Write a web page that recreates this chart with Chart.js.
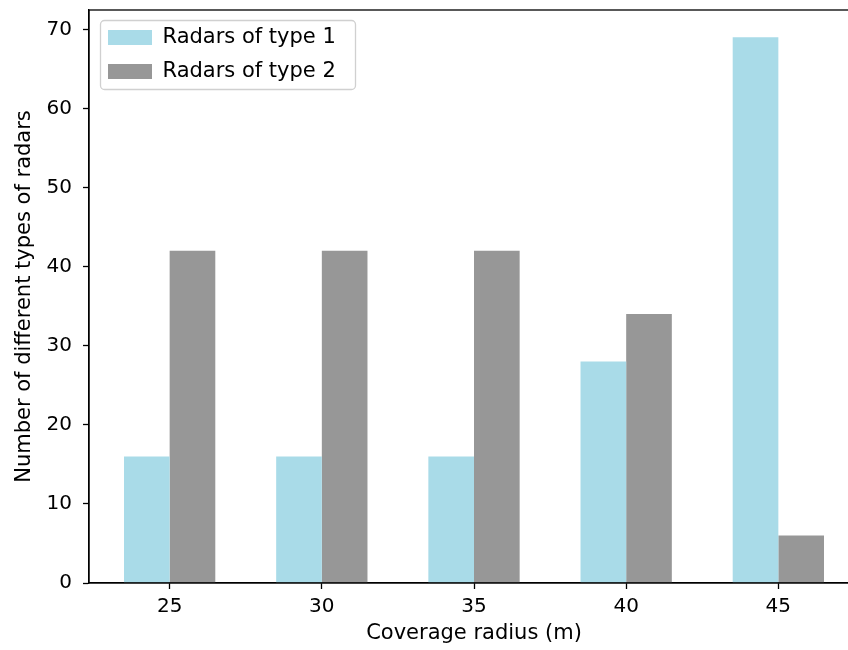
<!DOCTYPE html>
<html>
<head>
<meta charset="utf-8">
<script src="https://cdn.jsdelivr.net/npm/chart.js@4.4.1/dist/chart.umd.min.js"></script>
<style>
  html, body { margin: 0; padding: 0; background: #fff; overflow: hidden; }
</style>
</head>
<body>
<canvas id="chart" width="870" height="650"></canvas>
<script>
// coverage radius (m)
const radii = [25, 30, 35, 40, 45];
const type1Counts = [16, 16, 16, 28, 69];
const type2Counts = [42, 42, 42, 34, 6];
const yTicks = [0, 10, 20, 30, 40, 50, 60, 70];

const FONT = "'DejaVu Sans', sans-serif";

// matplotlib style frame around the axes + legend box
const framePlugin = {
    id: 'frame',
    afterLayout(chart) {
        const lg = chart.legend;
        if (lg) {
            lg.left = chart.chartArea.left + 6;
            lg.top = chart.chartArea.top + 4;
        }
    },
    beforeDatasetsDraw(chart) {
        const ctx = chart.ctx;
        const a = chart.chartArea;
        ctx.save();
        ctx.strokeStyle = '#d0d0d0';
        ctx.lineWidth = 1.3;
        ctx.beginPath();
        ctx.roundRect(a.left + 11.5, a.top + 10.5, 255, 69, 4);
        ctx.stroke();
        ctx.restore();
    },
    afterDraw(chart) {
        const a = chart.chartArea;
        const ctx = chart.ctx;
        ctx.save();
        ctx.strokeStyle = '#000';
        ctx.lineWidth = 1.3;
        ctx.strokeRect(a.left, a.top, a.right - a.left, a.bottom - a.top);
        ctx.restore();
    }
};

const chart = new Chart(document.getElementById('chart'), {
    type: 'bar',
    data: {
        datasets: [{
            label: 'Radars of type 1',
            data: radii.map((r, i) => ({ x: r, y: type1Counts[i] })),
            backgroundColor: '#a9dbe8',
            borderWidth: 0
        }, {
            label: 'Radars of type 2',
            data: radii.map((r, i) => ({ x: r, y: type2Counts[i] })),
            backgroundColor: '#979797',
            borderWidth: 0
        }]
    },
    options: {
        responsive: false,
        animation: false,
        categoryPercentage: 0.6,
        barPercentage: 1.0,
        layout: { padding: { top: 10, right: 11, left: 0, bottom: 0 } },
        plugins: {
            legend: {
                position: 'chartArea',
                align: 'start',
                labels: {
                    boxWidth: 44,
                    boxHeight: 15,
                    padding: 13,
                    color: '#000',
                    font: { family: FONT, size: 21 }
                }
            },
            tooltip: { enabled: false }
        },
        scales: {
            x: {
                type: 'linear',
                offset: false,
                min: 22.35,
                max: 47.65,
                afterBuildTicks: (scale) => { scale.ticks = radii.map(v => ({ value: v })); },
                afterFit: (scale) => { scale.height = 67; scale.paddingLeft = 0; scale.paddingRight = 0; },
                grid: { offset: false, drawOnChartArea: false, drawTicks: true, tickLength: 6, color: '#000', tickWidth: 1.3 },
                border: { display: true, color: '#000', width: 1.3 },
                ticks: { color: '#000', padding: 6, font: { family: FONT, size: 20 } },
                title: {
                    display: true,
                    text: 'Coverage radius (m)',
                    color: '#000',
                    padding: { top: 4, bottom: 4 },
                    font: { family: FONT, size: 21 }
                }
            },
            y: {
                min: 0,
                max: 72.45,
                afterBuildTicks: (scale) => { scale.ticks = yTicks.map(v => ({ value: v })); },
                afterFit: (scale) => { scale.width = 89; scale.paddingTop = 0; scale.paddingBottom = 0; },
                grid: { drawOnChartArea: false, drawTicks: true, tickLength: 6, color: '#000', tickWidth: 1.3 },
                border: { display: true, color: '#000', width: 1.3 },
                ticks: { color: '#000', padding: 11, font: { family: FONT, size: 20 } },
                title: {
                    display: true,
                    text: 'Number of different types of radars',
                    color: '#000',
                    padding: { top: 12, bottom: 0 },
                    font: { family: FONT, size: 21 }
                }
            }
        }
    },
    plugins: [framePlugin]
});
</script>
</body>
</html>
